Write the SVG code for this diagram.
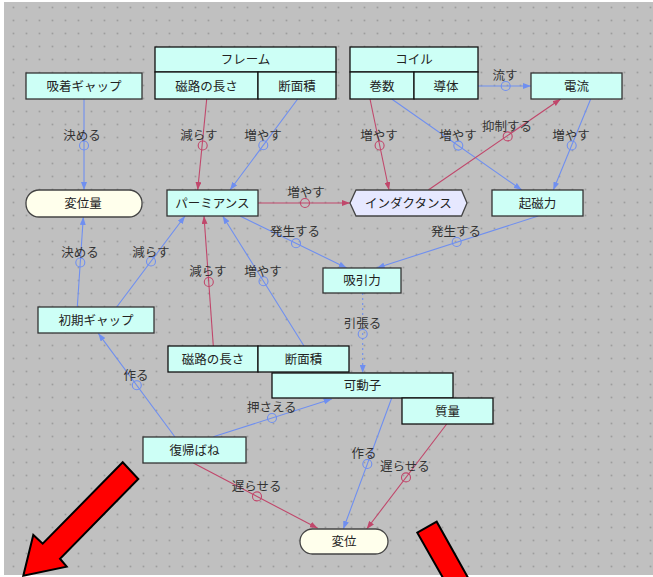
<svg xmlns="http://www.w3.org/2000/svg" width="653" height="577" viewBox="0 0 653 577">
<style>
.nd{fill:#cdfff6;stroke:#333;stroke-width:1.3}
.cell{fill:#cdfff6;stroke:#111;stroke-width:1.3}
.pill{fill:#ffffec;stroke:#444;stroke-width:1.3}
.hex{fill:#e6e8ff;stroke:#444;stroke-width:1.3}
.t{font-family:"Noto Sans CJK JP","Noto Sans",sans-serif;font-size:12.5px;fill:#222;text-anchor:middle}
.lb{font-family:"Noto Sans CJK JP","Noto Sans",sans-serif;font-size:12.5px;fill:#333;text-anchor:middle}
.b{stroke:#6f8ff0;stroke-width:1.1;fill:none;marker-end:url(#ab)}
.r{stroke:#c0476b;stroke-width:1.1;fill:none;marker-end:url(#ar)}
.bc{stroke:#6f8ff0;stroke-width:1.1;fill:none}
.rc{stroke:#c0476b;stroke-width:1.1;fill:none}
.big{fill:#ff0000;stroke:#000;stroke-width:2;stroke-linejoin:miter}
</style>
<defs>
<pattern id="grid" patternUnits="userSpaceOnUse" x="12.7" y="6.7" width="13" height="13">
<rect x="0" y="0" width="1.4" height="1.4" fill="#8c8c8c"/>
</pattern>
<marker id="ab" viewBox="0 0 8 6" refX="8" refY="3" markerWidth="8" markerHeight="6" markerUnits="userSpaceOnUse" orient="auto"><path d="M0,0L8,3L0,6z" fill="#6f8ff0"/></marker>
<marker id="ar" viewBox="0 0 8 6" refX="8" refY="3" markerWidth="8" markerHeight="6" markerUnits="userSpaceOnUse" orient="auto"><path d="M0,0L8,3L0,6z" fill="#c0476b"/></marker>
</defs>
<rect x="0" y="0" width="653" height="577" fill="#ffffff"/>
<rect x="4" y="2" width="649" height="573" fill="#c0c0c0"/>
<rect x="4" y="2" width="649" height="573" fill="url(#grid)"/>

<g id="connectors">
<line class="b" x1="84" y1="99" x2="84" y2="190"/>
<circle class="bc" cx="84" cy="145.5" r="4.5"/>
<text class="lb" x="82" y="140">決める</text>

<line class="r" x1="206.7" y1="99" x2="197.7" y2="190"/>
<circle class="rc" cx="202.7" cy="145.5" r="4.5"/>
<text class="lb" x="199" y="140">減らす</text>

<line class="b" x1="297.7" y1="99" x2="230" y2="190"/>
<circle class="bc" cx="263.3" cy="145.3" r="4.5"/>
<text class="lb" x="263" y="140">増やす</text>

<line class="r" x1="258" y1="203" x2="350" y2="203"/>
<circle class="rc" cx="305" cy="203" r="4.5"/>
<text class="lb" x="306" y="197">増やす</text>

<line class="r" x1="370" y1="99" x2="389" y2="190"/>
<circle class="rc" cx="379.6" cy="145.5" r="4.5"/>
<text class="lb" x="379" y="140">増やす</text>

<line class="b" x1="391.7" y1="99" x2="521.7" y2="190"/>
<circle class="bc" cx="458.3" cy="145.6" r="4.5"/>
<text class="lb" x="458" y="140">増やす</text>

<line class="b" x1="478" y1="86" x2="531" y2="86"/>
<circle class="bc" cx="505.7" cy="86" r="4.5"/>
<text class="lb" x="505" y="80">流す</text>

<line class="r" x1="428.3" y1="190" x2="560.7" y2="99"/>
<circle class="rc" cx="507.7" cy="136.4" r="4.5"/>
<text class="lb" x="507" y="131">抑制する</text>

<line class="b" x1="590.7" y1="99" x2="553.3" y2="190"/>
<circle class="bc" cx="571.7" cy="145.5" r="4.5"/>
<text class="lb" x="571" y="140">増やす</text>

<line class="b" x1="240" y1="216" x2="346.7" y2="268"/>
<circle class="bc" cx="296" cy="243.3" r="4.5"/>
<text class="lb" x="295" y="236">発生する</text>

<line class="b" x1="538.3" y1="216" x2="376.7" y2="268"/>
<circle class="bc" cx="456.7" cy="242" r="4.5"/>
<text class="lb" x="456" y="236">発生する</text>

<line class="b" x1="77.3" y1="307" x2="83.3" y2="217"/>
<circle class="bc" cx="80.3" cy="262.5" r="4.5"/>
<text class="lb" x="80" y="257">決める</text>

<line class="b" x1="116.7" y1="307" x2="185" y2="216"/>
<circle class="bc" cx="151" cy="261.5" r="4.5"/>
<text class="lb" x="151" y="257">減らす</text>

<line class="r" x1="213.3" y1="346" x2="204" y2="216"/>
<circle class="rc" cx="208.8" cy="282" r="4.5"/>
<text class="lb" x="208" y="276">減らす</text>

<line class="b" x1="304" y1="346" x2="222.7" y2="216"/>
<circle class="bc" cx="263.5" cy="281.3" r="4.5"/>
<text class="lb" x="263" y="276">増やす</text>

<line class="b" x1="362.7" y1="293" x2="362.7" y2="373" stroke-dasharray="2,3"/>
<circle class="bc" cx="362.7" cy="334" r="4.5"/>
<text class="lb" x="362.5" y="328">引張る</text>

<line class="b" x1="175" y1="437" x2="98.3" y2="333.3"/>
<circle class="bc" cx="136.8" cy="385.2" r="4.5"/>
<text class="lb" x="136" y="380">作る</text>

<line class="b" x1="213.3" y1="436.7" x2="331.7" y2="399"/>
<circle class="bc" cx="272" cy="418" r="4.5"/>
<text class="lb" x="271.7" y="412">押さえる</text>

<line class="b" x1="391.7" y1="398" x2="343.3" y2="529"/>
<circle class="bc" cx="367.3" cy="464" r="4.5"/>
<text class="lb" x="364" y="458">作る</text>

<line class="r" x1="446.7" y1="424" x2="366.7" y2="529"/>
<circle class="rc" cx="406" cy="477.4" r="4.5"/>
<text class="lb" x="405" y="471">遅らせる</text>

<line class="r" x1="193.3" y1="463" x2="317.7" y2="528.3"/>
<circle class="rc" cx="257" cy="496.4" r="4.5"/>
<text class="lb" x="256.7" y="491">遅らせる</text>
</g>

<g id="n-kyuchaku-gap"><rect class="nd" x="26" y="73" width="116" height="26"/><text class="t" x="84" y="90.5">吸着ギャップ</text></g>

<g id="n-frame">
<rect class="cell" x="155" y="47" width="181" height="25"/><text class="t" x="245.5" y="64">フレーム</text>
<rect class="cell" x="155" y="72" width="103" height="27"/><text class="t" x="206.5" y="90.5">磁路の長さ</text>
<rect class="cell" x="258" y="72" width="78" height="27"/><text class="t" x="297" y="90.5">断面積</text>
</g>

<g id="n-coil">
<rect class="cell" x="350" y="47" width="128" height="25"/><text class="t" x="414" y="64">コイル</text>
<rect class="cell" x="350" y="72" width="64" height="27"/><text class="t" x="382" y="90.5">巻数</text>
<rect class="cell" x="414" y="72" width="64" height="27"/><text class="t" x="446" y="90.5">導体</text>
</g>

<g id="n-denryu"><rect class="nd" x="531" y="73" width="91" height="26"/><text class="t" x="576.5" y="90.5">電流</text></g>

<g id="n-heniryo"><rect class="pill" x="26" y="190" width="116" height="27" rx="13" ry="13"/><text class="t" x="83" y="208">変位量</text></g>

<g id="n-permeance"><rect class="nd" x="167" y="190" width="91" height="26"/><text class="t" x="212.5" y="207.5">パーミアンス</text></g>

<g id="n-inductance"><polygon class="hex" points="350,203 356,190 461.5,190 467,203 461.5,216 356,216"/><text class="t" x="408.5" y="207.5">インダクタンス</text></g>

<g id="n-kijiryoku"><rect class="nd" x="492" y="190" width="91" height="26"/><text class="t" x="537.5" y="207.5">起磁力</text></g>

<g id="n-kyuinryoku"><rect class="nd" x="323" y="268" width="78" height="25"/><text class="t" x="362" y="285">吸引力</text></g>

<g id="n-shoki-gap"><rect class="nd" x="38" y="307" width="116" height="26"/><text class="t" x="96" y="324.5">初期ギャップ</text></g>

<g id="n-jiro"><rect class="cell" x="168" y="346" width="90" height="26"/><text class="t" x="213" y="363.5">磁路の長さ</text></g>

<g id="n-danmenseki"><rect class="cell" x="258" y="346" width="91" height="26"/><text class="t" x="303.5" y="363.5">断面積</text></g>

<g id="n-kadoushi"><rect class="cell" x="272" y="373" width="181" height="25"/><text class="t" x="362.5" y="390">可動子</text></g>

<g id="n-shitsuryo"><rect class="cell" x="402" y="398" width="91" height="26"/><text class="t" x="447.5" y="415.5">質量</text></g>

<g id="n-fukki-bane"><rect class="nd" x="143" y="437" width="103" height="26"/><text class="t" x="194.5" y="454.5">復帰ばね</text></g>

<g id="n-heni"><rect class="pill" x="300" y="529" width="88" height="25" rx="12.5" ry="12.5"/><text class="t" x="344" y="546">変位</text></g>

<g id="red-arrows">
<polygon class="big" points="122.7,462.3 138.3,479 60,558.7 66.7,566.7 23.3,575.7 33.3,535 42.7,543.7"/>
<polygon class="big" points="417.3,532.7 436.7,521.7 476,592 451,592"/>
</g>
</svg>
